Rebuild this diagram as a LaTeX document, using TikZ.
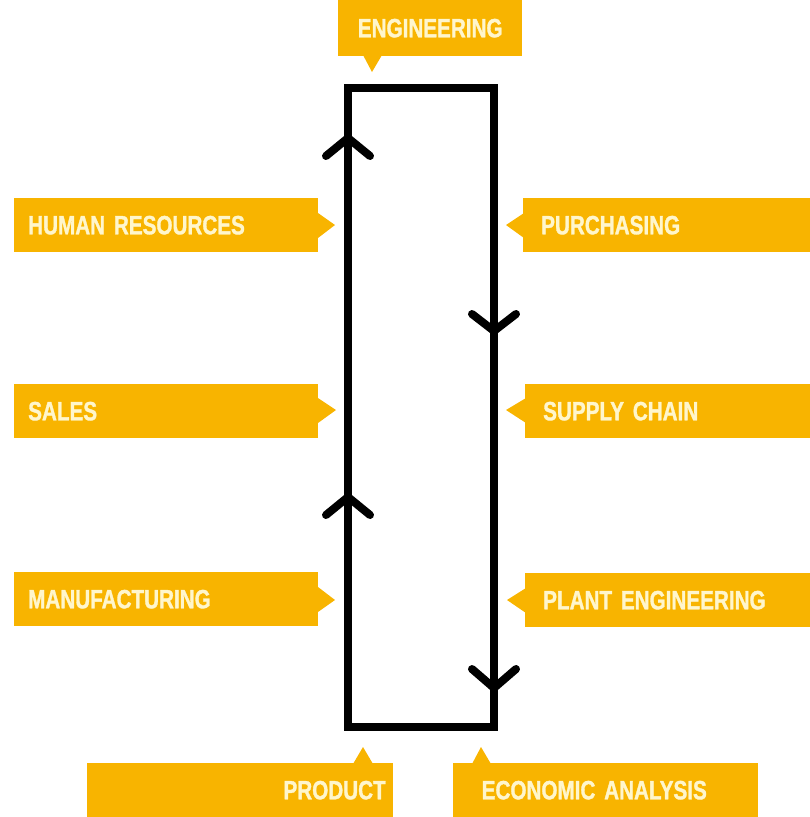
\documentclass[tikz,border=0pt]{standalone}
\usepackage{fontspec}
\newfontfamily\labfont[FakeStretch=0.78, BoldFeatures={FakeBold=1.2}]{Liberation Sans}
\definecolor{tag}{HTML}{F8B400}
\definecolor{tagtext}{HTML}{FFF6CC}
\tikzset{
  tagbox/.style={fill=tag, draw=none, text=tagtext, font=\labfont\bfseries\fontsize{26.5}{26.5}\selectfont,
    minimum height=54pt, inner ysep=0pt, anchor=north west},
  leftbox/.style={tagbox, minimum width=304pt, text width=276pt, inner xsep=14pt, align=left},
  rightbox/.style={tagbox, minimum width=286pt, text width=256pt, inner xsep=18pt, align=left},
  loopline/.style={line width=8pt, black, line join=miter},
  chev/.style={line width=8pt, black, line cap=round, line join=round}
}
\begin{document}
\begin{tikzpicture}[x=1pt,y=-1pt]
\useasboundingbox (0,0) rectangle (809,817);
% loop
\coordinate (tl) at (348,88);
\coordinate (tr) at (494,88);
\coordinate (br) at (494,727);
\coordinate (bl) at (348,727);
\draw[loopline] (tl) -- (tr) -- (br) -- (bl) -- cycle;
% chevrons
\coordinate (c1) at (348,138);
\coordinate (c2) at (494,331);
\coordinate (c3) at (348,497);
\coordinate (c4) at (494,688);
\draw[chev] ([shift={(-22,18)}]c1) -- (c1) -- ([shift={(22,18)}]c1);
\draw[chev] ([shift={(-22,-17)}]c2) -- (c2) -- ([shift={(22,-17)}]c2);
\draw[chev] ([shift={(-22,18)}]c3) -- (c3) -- ([shift={(22,18)}]c3);
\draw[chev] ([shift={(-22,-19)}]c4) -- (c4) -- ([shift={(22,-19)}]c4);
% top
\node[tagbox, minimum width=184pt, text width=184pt, inner xsep=0pt, align=center, minimum height=56pt] (eng) at (338,0) {\raisebox{-5pt}{ENGINEERING}};
\fill[tag] (363,55) -- (372,72) -- (382,55) -- cycle;
% left side
\node[leftbox] (hr) at (14,198) {HUMAN RESOURCES};
\fill[tag] (318,213) -- (335,225) -- (318,238) -- cycle;
\node[leftbox] (sales) at (14,384) {SALES};
\fill[tag] (318,398) -- (336,410) -- (318,423) -- cycle;
\node[leftbox] (manu) at (14,572) {MANUFACTURING};
\fill[tag] (318,587) -- (335,600) -- (318,612) -- cycle;
% right side
\node[rightbox] (pur) at (523,198) {PURCHASING};
\fill[tag] (524,213) -- (506,225) -- (524,238) -- cycle;
\node[rightbox] (sup) at (525,384) {SUPPLY CHAIN};
\fill[tag] (526,398) -- (506,410) -- (526,423) -- cycle;
\node[rightbox] (plant) at (525,573) {PLANT ENGINEERING};
\fill[tag] (526,588) -- (507,600) -- (526,613) -- cycle;
% bottom
\node[tagbox, minimum width=306pt, text width=291pt, inner xsep=0pt, align=right] (prod) at (87,763) {PRODUCT\hspace*{0pt}};
\fill[tag] (353,764) -- (363,747) -- (373,764) -- cycle;
\node[tagbox, minimum width=305pt, text width=286pt, inner xsep=0pt, align=left] (econ) at (453,763) {\hspace*{19pt}ECONOMIC ANALYSIS};
\fill[tag] (472,764) -- (481,747) -- (491,764) -- cycle;
\end{tikzpicture}
\end{document}
